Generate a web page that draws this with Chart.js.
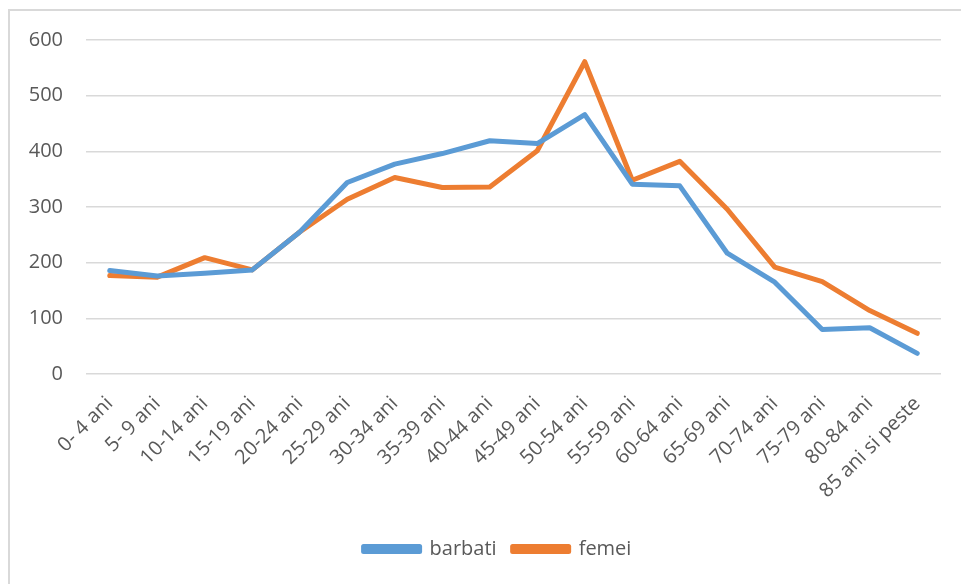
<!DOCTYPE html>
<html>
<head>
<meta charset="utf-8">
<script src="https://cdn.jsdelivr.net/npm/chart.js@4.4.1/dist/chart.umd.min.js"></script>
<style>
  html, body { margin: 0; padding: 0; background: #fff; overflow: hidden; }
  #frame { position: absolute; left: 8px; top: 9px; width: 1000px; height: 1000px; border: 2px solid #d9d9d9; box-sizing: border-box; }
  #wrap { position: absolute; left: 0; top: 0; width: 961px; height: 584px; }
</style>
</head>
<body>
<div id="frame"></div>
<div id="wrap"><canvas id="chart" width="961" height="584"></canvas></div>
<script>
// categorii de varsta
const ageGroups = ["0- 4 ani", "5- 9 ani", "10-14 ani", "15-19 ani", "20-24 ani", "25-29 ani",
  "30-34 ani", "35-39 ani", "40-44 ani", "45-49 ani", "50-54 ani", "55-59 ani",
  "60-64 ani", "65-69 ani", "70-74 ani", "75-79 ani", "80-84 ani", "85 ani si peste"];

const barbati = [186, 176, 181, 187, 255, 344, 377, 396, 419, 414, 466, 341, 338, 217, 165, 80, 83, 37];
const femei   = [177, 174, 209, 187, 255, 314, 353, 335, 336, 401, 561, 348, 382, 296, 192, 166, 114, 73];

const yTicks = [0, 100, 200, 300, 400, 500, 600];

const textColor = '#595959';
const gridColor = '#d9d9d9';

// legend sits a bit right of the canvas centre in the original
const legendShift = {
  id: 'legendShift',
  beforeDraw(chart) {
    const lg = chart.legend;
    if (lg && !lg._shifted) {
      lg.left += 15;
      lg.right += 15;
      lg._shifted = true;
    }
  }
};

const ctx = document.getElementById('chart').getContext('2d');
const chart = new Chart(ctx, {
  type: 'line',
  data: {
    labels: ageGroups,
    datasets: [{
      label: 'barbati',
      data: barbati,
      borderColor: '#5b9bd5',
      backgroundColor: '#5b9bd5',
      borderWidth: 5,
      pointRadius: 0,
      borderCapStyle: 'round',
      borderJoinStyle: 'round',
      tension: 0
    }, {
      label: 'femei',
      data: femei,
      borderColor: '#ed7d31',
      backgroundColor: '#ed7d31',
      borderWidth: 5,
      pointRadius: 0,
      borderCapStyle: 'round',
      borderJoinStyle: 'round',
      tension: 0
    }]
  },
  options: {
    responsive: false,
    animation: false,
    devicePixelRatio: 1,
    layout: { padding: { left: 24, right: 20, top: 40, bottom: 15 } },
    plugins: {
      tooltip: { enabled: false },
      legend: {
        position: 'bottom',
        labels: {
          color: textColor,
          font: { family: 'Open Sans', size: 20 },
          boxWidth: 56,
          boxHeight: 5,
          padding: 16
        }
      }
    },
    scales: {
      x: {
        offset: true,
        grid: { display: false },
        border: { display: false },
        ticks: {
          color: textColor,
          font: { family: 'Open Sans', size: 20 },
          minRotation: 45,
          maxRotation: 45,
          autoSkip: false,
          padding: 10
        },
        afterFit: function(scale) { scale.height = 149; }
      },
      y: {
        min: 0,
        max: 600,
        afterBuildTicks: function(scale) {
          scale.ticks = yTicks.map(v => ({ value: v }));
        },
        grid: { color: gridColor, lineWidth: 1.5, drawTicks: false },
        border: { display: false },
        ticks: {
          color: textColor,
          font: { family: 'Open Sans', size: 20 },
          padding: 23
        },
        afterFit: function(scale) { scale.width = 62; }
      }
    }
  },
  plugins: [legendShift]
});
</script>
</body>
</html>
